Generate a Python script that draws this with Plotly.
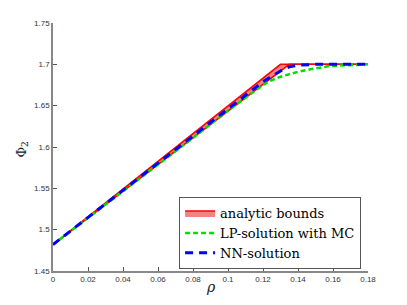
import plotly.graph_objects as go

# analytic bounds (band)
rho_band = [0.0, 0.13, 0.135, 0.18]
upper_band = [1.482, 1.7, 1.7, 1.7]
lower_band = [1.482, 1.692, 1.7, 1.7]

# LP-solution with MC
rho_lp = [0.0, 0.02, 0.04, 0.06, 0.08, 0.10, 0.12, 0.124, 0.13, 0.135, 0.14, 0.147, 0.158, 0.17, 0.18]
phi_lp = [1.482, 1.514, 1.546, 1.579, 1.611, 1.644, 1.675, 1.680, 1.685, 1.688, 1.691, 1.694, 1.698, 1.699, 1.700]

# NN-solution
rho_nn = [0.0, 0.02, 0.04, 0.06, 0.08, 0.10, 0.12, 0.13, 0.135, 0.14, 0.15, 0.18]
phi_nn = [1.482, 1.515, 1.548, 1.581, 1.614, 1.647, 1.679, 1.692, 1.697, 1.699, 1.700, 1.700]

x_ticks = [0, 0.02, 0.04, 0.06, 0.08, 0.1, 0.12, 0.14, 0.16, 0.18]
x_ticklabels = ["0", "0.02", "0.04", "0.06", "0.08", "0.1", "0.12", "0.14", "0.16", "0.18"]
y_ticks = [1.45, 1.5, 1.55, 1.6, 1.65, 1.7, 1.75]
y_ticklabels = ["1.45", "1.5", "1.55", "1.6", "1.65", "1.7", "1.75"]

fig = go.Figure()
fig.add_trace(go.Scatter(x=rho_band, y=lower_band, mode="lines",
                         line=dict(color="red", width=1.5), showlegend=False,
                         hoverinfo="skip"))
fig.add_trace(go.Scatter(x=rho_band, y=upper_band, mode="lines", fill="tonexty",
                         fillcolor="rgba(240,90,90,0.75)",
                         line=dict(color="red", width=1.5), name="analytic bounds"))
fig.add_trace(go.Scatter(x=rho_lp, y=phi_lp, mode="lines",
                         line=dict(color="#00e000", width=2.5, dash="5px,3px"),
                         name="LP-solution with MC"))
fig.add_trace(go.Scatter(x=rho_nn, y=phi_nn, mode="lines",
                         line=dict(color="#0000ff", width=3, dash="8px,6px"),
                         name="NN-solution"))

tickfont = dict(family="Liberation Sans", size=8, color="#333333")
fig.update_layout(
    width=391, height=289,
    margin=dict(l=45, r=31, t=15, b=26, autoexpand=False),
    plot_bgcolor="white", paper_bgcolor="white",
    xaxis=dict(range=[0, 0.18], tickvals=x_ticks, ticktext=x_ticklabels,
               showgrid=False, zeroline=False, showline=True, linecolor="#888888",
               linewidth=1.5, ticks="inside", ticklen=4, tickcolor="#555555",
               tickfont=tickfont, mirror=False, automargin=False),
    yaxis=dict(range=[1.45, 1.75], tickvals=y_ticks, ticktext=y_ticklabels,
               showgrid=False, zeroline=False, showline=True, linecolor="#888888",
               linewidth=1.5, ticks="inside", ticklen=4, tickcolor="#555555",
               tickfont=tickfont, mirror=False, automargin=False),
    legend=dict(x=0.978, y=0.153, xanchor="right", yanchor="middle",
                bgcolor="white", bordercolor="#555555", borderwidth=1,
                font=dict(family="DejaVu Serif", size=13, color="black"),
                itemwidth=30, tracegroupgap=0, traceorder="normal"),
    showlegend=True,
    annotations=[
        dict(text="<i>ρ</i>", xref="paper", yref="paper", x=0.5, y=-0.1048,
             xanchor="center", yanchor="bottom", showarrow=False,
             font=dict(family="DejaVu Serif", size=14, color="#222222")),
        dict(text="Φ<sub>2</sub>", xref="paper", yref="paper", x=-0.098, y=0.49,
             xanchor="center", yanchor="middle", showarrow=False, textangle=-90,
             font=dict(family="DejaVu Serif", size=13, color="#222222")),
    ],
)

fig.write_html("out.html")
